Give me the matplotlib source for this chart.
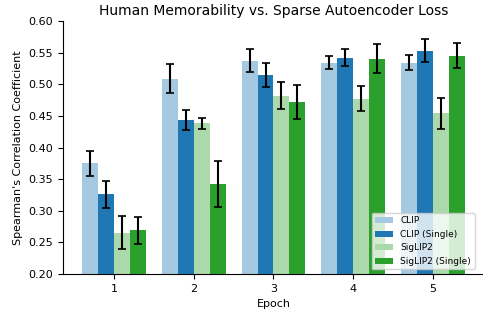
import matplotlib.pyplot as plt
import numpy as np

EPOCHS = [1, 2, 3, 4, 5]
MODELS = ["CLIP", "CLIP (Single)", "SigLIP2", "SigLIP2 (Single)"]
# light shades = tab blue / tab green at 40% over white
COLORS = ["#a5c9e1", "#1f77b4", "#abd9ab", "#2ca02c"]

# mean spearman rho per epoch, one list per model
CLIP_MEAN = [0.375, 0.509, 0.537, 0.534, 0.534]
CLIP_SINGLE_MEAN = [0.326, 0.443, 0.515, 0.542, 0.553]
SIGLIP2_MEAN = [0.265, 0.438, 0.482, 0.477, 0.454]
SIGLIP2_SINGLE_MEAN = [0.269, 0.342, 0.472, 0.540, 0.545]

CLIP_ERR = [0.020, 0.023, 0.018, 0.010, 0.012]
CLIP_SINGLE_ERR = [0.021, 0.016, 0.019, 0.013, 0.018]
SIGLIP2_ERR = [0.026, 0.009, 0.021, 0.020, 0.025]
SIGLIP2_SINGLE_ERR = [0.021, 0.036, 0.027, 0.023, 0.020]

MEANS = [CLIP_MEAN, CLIP_SINGLE_MEAN, SIGLIP2_MEAN, SIGLIP2_SINGLE_MEAN]
ERRS = [CLIP_ERR, CLIP_SINGLE_ERR, SIGLIP2_ERR, SIGLIP2_SINGLE_ERR]


def main():
    fig = plt.figure(figsize=(4.83, 3.13), dpi=100)
    ax = fig.add_axes([0.1304, 0.1246, 0.8716, 0.8083])

    x = np.array(EPOCHS, dtype=float)
    width = 0.2
    for i, (name, mean, err, color) in enumerate(zip(MODELS, MEANS, ERRS, COLORS)):
        offset = (i - 1.5) * width
        ax.bar(x + offset, mean, width, yerr=err, color=color, label=name,
               capsize=3, error_kw=dict(elinewidth=1.5, capthick=1.2, ecolor="black"))

    ax.set_ylim(0.2, 0.6)
    ax.set_xticks(EPOCHS)
    ax.set_xlabel("Epoch", fontsize=8)
    ax.set_ylabel("Spearman's Correlation Coefficient", fontsize=8)
    ax.set_title("Human Memorability vs. Sparse Autoencoder Loss", fontsize=10, pad=4)
    ax.tick_params(labelsize=8)
    ax.spines[["top", "right"]].set_visible(False)
    ax.legend(loc="lower right", fontsize=6.5, borderpad=0.4, handlelength=2.0,
              bbox_to_anchor=(0.989, 0.0))

    fig.savefig("out.png", dpi=100)
    plt.close(fig)


if __name__ == "__main__":
    main()
